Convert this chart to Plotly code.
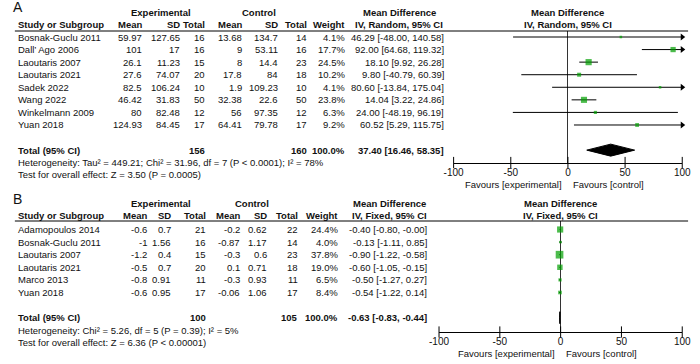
import math
import plotly.graph_objects as go

W, H = 700, 364
FONT = "Liberation Sans, Arial, sans-serif"
FS = 9.5
GREEN = "#00a000"

# ---------------- Panel A data ----------------
a_study = ["Bosnak-Guclu 2011", "Dall’ Ago 2006", "Laoutaris 2007", "Laoutaris 2021",
           "Sadek 2022", "Wang 2022", "Winkelmann 2009", "Yuan 2018"]
a_exp_mean = ["59.97", "101", "26.1", "27.6", "82.5", "46.42", "80", "124.93"]
a_exp_sd = ["127.65", "17", "11.23", "74.07", "106.24", "31.83", "82.48", "84.45"]
a_exp_n = [16, 16, 15, 20, 10, 50, 12, 17]
a_ctl_mean = ["13.68", "9", "8", "17.8", "1.9", "32.38", "56", "64.41"]
a_ctl_sd = ["134.7", "53.11", "14.4", "84", "109.23", "22.6", "97.35", "79.78"]
a_ctl_n = [14, 16, 23, 18, 10, 50, 12, 17]
a_weight = [4.1, 17.7, 24.5, 10.2, 4.1, 23.8, 6.3, 9.2]
a_md = [46.29, 92.00, 18.10, 9.80, 80.60, 14.04, 24.00, 60.52]
a_lo = [-48.00, 64.68, 9.92, -40.79, -13.84, 3.22, -48.19, 5.29]
a_hi = [140.58, 119.32, 26.28, 60.39, 175.04, 24.86, 96.19, 115.75]
a_total = [37.40, 16.46, 58.35]
a_het = "Heterogeneity: Tau² = 449.21; Chi² = 31.96, df = 7 (P < 0.0001); I² = 78%"
a_test = "Test for overall effect: Z = 3.50 (P = 0.0005)"
a_method = "IV, Random, 95% CI"

# ---------------- Panel B data ----------------
b_study = ["Adamopoulos 2014", "Bosnak-Guclu 2011", "Laoutaris 2007", "Laoutaris 2021",
           "Marco 2013", "Yuan 2018"]
b_exp_mean = ["-0.6", "-1", "-1.2", "-0.5", "-0.8", "-0.6"]
b_exp_sd = ["0.7", "1.56", "0.4", "0.7", "0.91", "0.95"]
b_exp_n = [21, 16, 15, 20, 11, 17]
b_ctl_mean = ["-0.2", "-0.87", "-0.3", "0.1", "-0.3", "-0.06"]
b_ctl_sd = ["0.62", "1.17", "0.6", "0.71", "0.93", "1.06"]
b_ctl_n = [22, 14, 23, 18, 11, 17]
b_weight = [24.4, 4.0, 37.8, 19.0, 6.5, 8.4]
b_md = [-0.40, -0.13, -0.90, -0.60, -0.50, -0.54]
b_lo = [-0.80, -1.11, -1.22, -1.05, -1.27, -1.22]
b_hi = [-0.0, 0.85, -0.58, -0.15, 0.27, 0.14]
b_total = [-0.63, -0.83, -0.44]
b_het = "Heterogeneity: Chi² = 5.26, df = 5 (P = 0.39); I² = 5%"
b_test = "Test for overall effect: Z = 6.36 (P < 0.00001)"
b_method = "IV, Fixed, 95% CI"

tick_vals = [-100, -50, 0, 50, 100]
tick_text = ["-100", "-50", "0", "50", "100"]

panels = [
    dict(label="A", study=a_study, em=a_exp_mean, esd=a_exp_sd, en=a_exp_n,
         cm=a_ctl_mean, csd=a_ctl_sd, cn=a_ctl_n, w=a_weight, md=a_md, lo=a_lo, hi=a_hi,
         tot=a_total, het=a_het, test=a_test, method=a_method,
         g=dict(label_y=7, grp_y=13, hdr_y=25, line_y=31, row0=37, step=12.57, axis_y=162.5,
                x0=456, x1=691, cols=[137, 176, 201, 239, 277, 306, 345, 447],
                mdhdr=400, expc=155, ctlc=256)),
    dict(label="B", study=b_study, em=b_exp_mean, esd=b_exp_sd, en=b_exp_n,
         cm=b_ctl_mean, csd=b_ctl_sd, cn=b_ctl_n, w=b_weight, md=b_md, lo=b_lo, hi=b_hi,
         tot=b_total, het=b_het, test=b_test, method=b_method,
         g=dict(label_y=199, grp_y=203, hdr_y=215, line_y=221, row0=229.5, step=12.6, axis_y=332,
                x0=441, x1=691, cols=[142, 167, 202, 237, 265, 297, 338, 430],
                mdhdr=390, expc=155, ctlc=249)),
]


def px(x):
    return x / W


def py(y):
    return 1 - y / H


fig = go.Figure()
annotations = []
shapes = []


def txt(x, y, s, anchor="right", bold=False, size=FS, yref="paper", xref="paper", xshift=0):
    annotations.append(dict(
        x=x, y=y, xref=xref, yref=yref, text=("<b>%s</b>" % s) if bold else s,
        showarrow=False, xanchor=anchor, yanchor="middle", xshift=xshift, borderpad=0,
        font=dict(family=FONT, size=size, color="#111")))


for k, p in enumerate(panels):
    g = p["g"]
    sfx = "" if k == 0 else str(k + 1)
    xa, ya = "x" + sfx, "y" + sfx
    n = len(p["study"])
    tot_row = n + 1
    top = (g["line_y"] - g["row0"]) / g["step"]
    bot = (g["axis_y"] - g["row0"]) / g["step"]
    tot_px = g["row0"] + tot_row * g["step"]

    # ---- table text ----
    txt(px(2), py(g["label_y"]), p["label"], anchor="left", size=14)
    txt(px(g["expc"]), py(g["grp_y"]), "Experimental", anchor="center", bold=True)
    txt(px(g["ctlc"]), py(g["grp_y"]), "Control", anchor="center", bold=True)
    txt(px(g["mdhdr"]), py(g["grp_y"]), "Mean Difference", anchor="center", bold=True)
    txt(px(g["mdhdr"]), py(g["hdr_y"]), p["method"], anchor="center", bold=True)
    txt(px(7), py(g["hdr_y"]), "Study or Subgroup", anchor="left", bold=True)
    heads = ["Mean", "SD", "Total", "Mean", "SD", "Total", "Weight"]
    for c, hname in enumerate(heads):
        txt(px(g["cols"][c]), py(g["hdr_y"]), hname, bold=True)
    # plot header (centred over zero)
    txt(0, py(g["grp_y"]), "Mean Difference", anchor="center", bold=True, xref=xa)
    txt(0, py(g["hdr_y"]), p["method"], anchor="center", bold=True, xref=xa)

    shapes.append(dict(type="line", xref="paper", yref="paper", x0=px(5), x1=px(697),
                       y0=py(g["line_y"]), y1=py(g["line_y"]), line=dict(color="#000", width=1)))

    for i in range(n):
        vals = [p["em"][i], p["esd"][i], str(p["en"][i]), p["cm"][i], p["csd"][i],
                str(p["cn"][i]), "%.1f%%" % p["w"][i],
                "%.2f [%.2f, %.2f]" % (p["md"][i], p["lo"][i], p["hi"][i])]
        txt(px(7), i, p["study"][i], anchor="left", yref=ya)
        for c, v in enumerate(vals):
            txt(px(g["cols"][c]), i, v, yref=ya)

    # totals
    txt(px(7), tot_row, "Total (95% CI)", anchor="left", bold=True, yref=ya)
    txt(px(g["cols"][2]), tot_row, str(sum(p["en"])), bold=True, yref=ya)
    txt(px(g["cols"][5]), tot_row, str(sum(p["cn"])), bold=True, yref=ya)
    txt(px(g["cols"][6]), tot_row, "100.0%", bold=True, yref=ya)
    txt(px(g["cols"][7]), tot_row, "%.2f [%.2f, %.2f]" % tuple(p["tot"]), bold=True, yref=ya)
    txt(px(7), py(tot_px + 12.3), p["het"], anchor="left")
    txt(px(7), py(tot_px + 24.3), p["test"], anchor="left")

    # favours labels
    txt(0, py(g["axis_y"] + 21.5), "Favours [experimental]", anchor="right", xref=xa, xshift=-5)
    txt(0, py(g["axis_y"] + 21.5), "Favours [control]", anchor="left", xref=xa, xshift=4)

    # ---- forest plot ----
    for i in range(n):
        lo_c = max(p["lo"][i], tick_vals[0])
        hi_c = min(p["hi"][i], tick_vals[-1])
        fig.add_trace(go.Scatter(x=[lo_c, hi_c], y=[i, i], mode="lines", xaxis=xa, yaxis=ya,
                                 line=dict(color="#000", width=1), hoverinfo="skip"))
        if p["hi"][i] > tick_vals[-1]:
            fig.add_trace(go.Scatter(x=[tick_vals[-1]], y=[i], mode="markers", xaxis=xa, yaxis=ya,
                                     cliponaxis=False,
                                     marker=dict(symbol="triangle-right", size=6, color="#000"),
                                     hoverinfo="skip"))
        if p["lo"][i] < tick_vals[0]:
            fig.add_trace(go.Scatter(x=[tick_vals[0]], y=[i], mode="markers", xaxis=xa, yaxis=ya,
                                     cliponaxis=False,
                                     marker=dict(symbol="triangle-left", size=6, color="#000"),
                                     hoverinfo="skip"))
    fig.add_trace(go.Scatter(
        x=p["md"], y=list(range(n)), mode="markers", xaxis=xa, yaxis=ya, cliponaxis=False,
        marker=dict(symbol="square", color=GREEN, size=[1.25 * math.sqrt(w) for w in p["w"]],
                    line=dict(width=0)), hoverinfo="skip"))
    est, lo, hi = p["tot"]
    hh = 6.0 / g["step"]
    fig.add_trace(go.Scatter(
        x=[lo, est, hi, est, lo], y=[tot_row, tot_row - hh, tot_row, tot_row + hh, tot_row],
        mode="lines", fill="toself", fillcolor="#000", line=dict(color="#000", width=1),
        xaxis=xa, yaxis=ya, hoverinfo="skip"))
    # crossing tick marks
    fig.add_trace(go.Scatter(
        x=tick_vals, y=[bot] * len(tick_vals), mode="markers", xaxis=xa, yaxis=ya, cliponaxis=False,
        marker=dict(symbol="line-ns", size=8, line=dict(color="#000", width=1)), hoverinfo="skip"))

    fig.layout["xaxis" + sfx] = dict(
        domain=[px(g["x0"]), px(g["x1"])], range=[tick_vals[0], tick_vals[-1]], anchor=ya,
        showline=True, linecolor="#000", linewidth=1, ticks="",
        tickvals=tick_vals, ticktext=tick_text, showgrid=False,
        zeroline=True, zerolinecolor="#333", zerolinewidth=1,
        tickfont=dict(family=FONT, size=10, color="#111"), fixedrange=True)
    fig.layout["yaxis" + sfx] = dict(
        domain=[py(g["axis_y"]), py(g["line_y"])], range=[bot, top], anchor=xa,
        visible=False, showgrid=False, zeroline=False, fixedrange=True)

fig.update_layout(
    width=W, height=H, margin=dict(l=0, r=0, t=0, b=0),
    paper_bgcolor="#fff", plot_bgcolor="rgba(0,0,0,0)", showlegend=False,
    annotations=annotations, shapes=shapes, font=dict(family=FONT, size=FS, color="#111"))

fig.write_html("out.html", config={"displayModeBar": False},
               post_script="document.body.style.margin='0';document.body.style.overflow='hidden';")
